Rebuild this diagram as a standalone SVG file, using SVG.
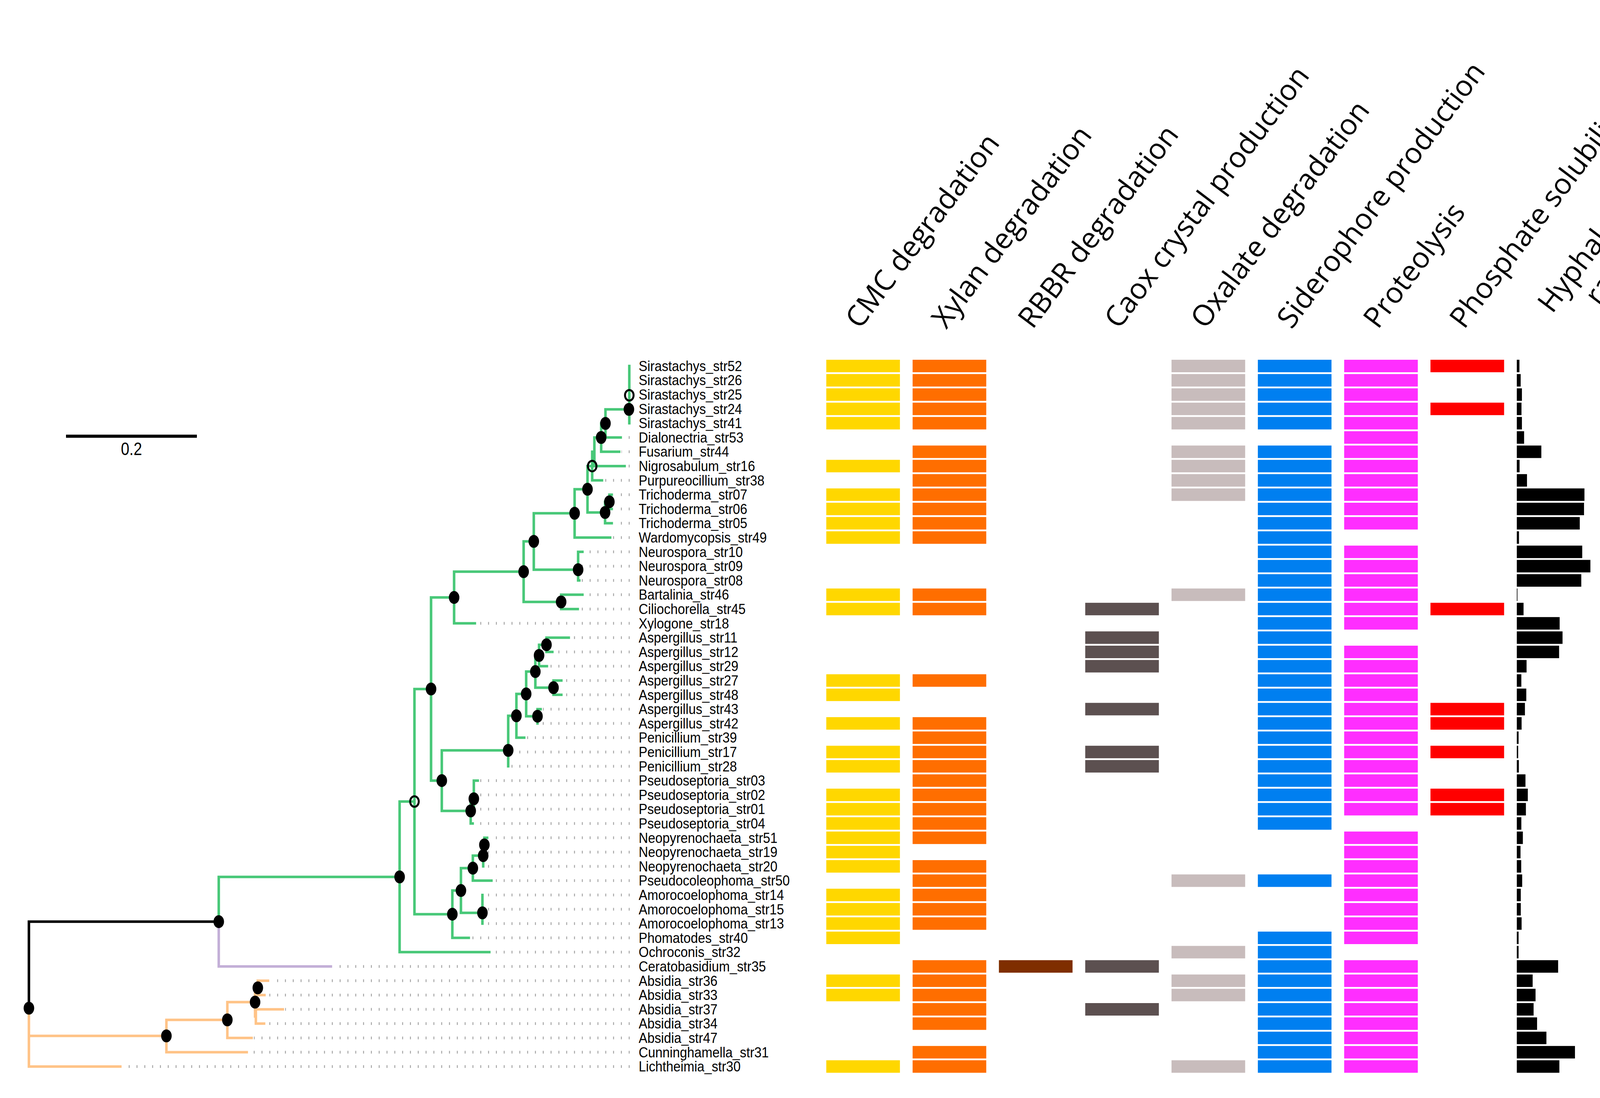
<svg xmlns="http://www.w3.org/2000/svg" width="4403" height="2811" viewBox="0 0 4403 2811">
<style>
.g{fill:none;stroke:#48C878;stroke-width:6.5;stroke-linecap:square}
.pu{fill:none;stroke:#C3AFD7;stroke-width:6.5;stroke-linecap:square}
.bk{fill:none;stroke:#000;stroke-width:6.5;stroke-linecap:square}
.or{fill:none;stroke:#FFC387;stroke-width:6.5;stroke-linecap:square}
.dt{fill:none;stroke:#A8A8A8;stroke-width:7;stroke-dasharray:2.5 17.5}
.dot{fill:#000}
.hol{fill:none;stroke:#000;stroke-width:5}
.lab{font-family:"Liberation Sans",Arial,sans-serif;font-size:37px;fill:#000}
.hdr{font-family:"Open Sans","Noto Sans",sans-serif;font-size:74px;fill:#000}
.c0{fill:#FFD700}.c1{fill:#FF6E00}.c2{fill:#7F2E00}.c3{fill:#5C5050}.c4{fill:#C8BCBC}.c5{fill:#007FF0}.c6{fill:#FF2EFF}.c7{fill:#FF0000}.c8{fill:#000}
</style>
<rect width="4403" height="2811" fill="#fff"/>

<g id="scalebar">
<path d="M169 1116.7 H504" stroke="#000" stroke-width="8"/>
<text transform="translate(336.5 1165) scale(0.845 1)" text-anchor="middle" style="font-family:'Liberation Sans',Arial,sans-serif;font-size:46px">0.2</text>
</g>

<g id="connectors">
<g id="tip-dots" class="dt">
<path d="M1612 1120 H1595"/><path d="M1612 1156.6 H1591"/><path d="M1612 1193.2 H1605"/><path d="M1612 1229.8 H1547"/>
<path d="M1612 1266.4 H1572"/><path d="M1612 1303 H1572"/><path d="M1612 1339.6 H1572"/><path d="M1612 1376.2 H1568"/>
<path d="M1612 1412.8 H1497"/><path d="M1612 1449.4 H1490"/><path d="M1612 1486 H1489"/><path d="M1612 1522.6 H1497"/>
<path d="M1612 1559.2 H1485"/><path d="M1612 1595.8 H1222"/><path d="M1612 1632.4 H1462"/><path d="M1612 1669 H1420"/>
<path d="M1612 1705.6 H1406"/><path d="M1612 1742.2 H1443"/><path d="M1612 1778.8 H1443"/><path d="M1612 1815.4 H1390"/>
<path d="M1612 1852 H1382"/><path d="M1612 1888.6 H1348"/><path d="M1612 1925.2 H1312"/><path d="M1612 1961.8 H1307"/>
<path d="M1612 1998.4 H1229"/><path d="M1612 2035 H1219"/><path d="M1612 2071.6 H1219"/><path d="M1612 2108.2 H1216"/>
<path d="M1612 2144.8 H1253"/><path d="M1612 2181.4 H1246"/><path d="M1612 2218 H1246"/><path d="M1612 2254.6 H1264"/>
<path d="M1612 2291.2 H1243"/><path d="M1612 2327.8 H1243"/><path d="M1612 2364.4 H1243"/><path d="M1612 2401 H1206"/>
<path d="M1612 2437.6 H1259"/><path d="M1612 2474.2 H853"/><path d="M1612 2510.8 H692"/><path d="M1612 2547.4 H683"/>
<path d="M1612 2584 H730"/><path d="M1612 2620.6 H682"/><path d="M1612 2657.2 H650"/><path d="M1612 2693.8 H638"/>
<path d="M1612 2730.4 H314"/>
</g>
<path class="g" d="M1611 937 V1083.4 M1550 1048 H1611 M1550 1048 V1120 M1550 1120 H1589 M1539 1084 H1550 M1539 1084 V1156.6 M1539 1156.6 H1585 M1521.6 1120 H1539 M1521.6 1120 V1193.2 M1521.6 1193.2 H1599 M1516 1156.6 H1521.6 M1516 1156.6 V1229.8 M1516 1229.8 H1541 M1504 1193.2 H1516 M1504 1193.2 V1312 M1504 1312 H1549 M1549 1284.7 V1339.6 M1549 1284.7 H1560 M1560 1266.4 V1303 M1560 1266.4 H1566 M1560 1303 H1566 M1549 1339.6 H1566 M1471 1252.5 H1504 M1471 1252.5 V1376.2 M1471 1376.2 H1562 M1366.5 1314 H1471 M1366.5 1314 V1458.5 M1366.5 1458.5 H1480 M1480 1412.8 V1486 M1480 1412.8 H1491 M1480 1449.4 H1484 M1480 1486 H1483 M1340.5 1386 H1366.5 M1340.5 1386 V1541 M1340.5 1541 H1436.5 M1436.5 1522.6 V1559.2 M1436.5 1522.6 H1491 M1436.5 1559.2 H1479 M1162.5 1463.5 H1340.5 M1162.5 1463.5 V1595.8 M1162.5 1595.8 H1215.6 M1103.5 1529.6 H1162.5 M1103.5 1529.6 V1998.4 M1103.5 1998.4 H1131 M1131 1921 V2076 M1131 1921 H1301 M1301 1832.5 V1961.8 M1301 1832.5 H1322 M1301 1925.2 H1306 M1322 1776.5 V1888.6 M1322 1888.6 H1342 M1322 1776.5 H1347 M1347 1719.3 V1833.7 M1347 1719.3 H1370.5 M1347 1833.7 H1376 M1376 1815.4 V1852 M1376 1815.4 H1384 M1370.5 1678 V1760.5 M1370.5 1678 H1380 M1370.5 1760.5 H1417 M1417 1742.2 V1778.8 M1417 1742.2 H1437 M1417 1778.8 H1437 M1380 1650.7 V1705.6 M1380 1650.7 H1399 M1380 1705.6 H1400 M1399 1632.4 V1669 M1399 1632.4 H1456 M1399 1669 H1414 M1131 2076 H1205 M1205 2045 V2108.2 M1205 2045 H1213 M1205 2108.2 H1210 M1213 1998.4 V2071.6 M1213 1998.4 H1223 M1061 1764 H1103.5 M1061 1764 V2340.4 M1061 2340.4 H1158 M1158 2279.8 V2401 M1158 2401 H1200 M1158 2279.8 H1180 M1180 2222.5 V2337 M1180 2222.5 H1210.5 M1180 2337 H1235 M1235 2291.2 V2364.4 M1210.5 2190.5 V2254.6 M1210.5 2190.5 H1237 M1210.5 2254.6 H1258 M1237 2163 V2218 M1237 2163 H1240 M1240 2144.8 V2181.4 M1240 2144.8 H1247 M1023 2052 H1061 M1023 2052 V2437.6 M1023 2437.6 H1252.6 M560 2245 H1023 M560 2245 V2359.6"/>
<path class="pu" d="M560 2359.6 V2474.2 H847"/>
<path class="bk" d="M74 2581 V2359.6 H560"/>
<path class="or" d="M74 2581 V2730.4 H308 M74 2652 H426 M426 2611 V2693.8 M426 2693.8 H631.6 M426 2611 H582 M582 2565.5 V2657.2 M582 2657.2 H644 M582 2565.5 H653 M653 2529 V2602.3 M653 2529 H660 M660 2510.8 V2547.4 M660 2510.8 H686 M660 2547.4 H677 M653 2602.3 H655 M655 2584 V2620.6 M655 2584 H724 M655 2620.6 H676"/>
</g>

<g id="nodes">
<g class="dot">
<ellipse cx="1610" cy="1048" rx="13.5" ry="16.5"/><ellipse cx="1550" cy="1084" rx="13.5" ry="16.5"/><ellipse cx="1539" cy="1120" rx="13.5" ry="16.5"/>
<ellipse cx="1560" cy="1284.7" rx="13.5" ry="16.5"/><ellipse cx="1549" cy="1312" rx="13.5" ry="16.5"/><ellipse cx="1504" cy="1252.5" rx="13.5" ry="16.5"/>
<ellipse cx="1471" cy="1314" rx="13.5" ry="16.5"/><ellipse cx="1480" cy="1458.5" rx="13.5" ry="16.5"/><ellipse cx="1366.5" cy="1386" rx="13.5" ry="16.5"/>
<ellipse cx="1436.5" cy="1541" rx="13.5" ry="16.5"/><ellipse cx="1340.5" cy="1463.5" rx="13.5" ry="16.5"/><ellipse cx="1162.5" cy="1529.6" rx="13.5" ry="16.5"/>
<ellipse cx="1399" cy="1650.7" rx="13.5" ry="16.5"/><ellipse cx="1380" cy="1678" rx="13.5" ry="16.5"/><ellipse cx="1370.5" cy="1719.3" rx="13.5" ry="16.5"/>
<ellipse cx="1417" cy="1760.5" rx="13.5" ry="16.5"/><ellipse cx="1376" cy="1833.7" rx="13.5" ry="16.5"/><ellipse cx="1347" cy="1776.5" rx="13.5" ry="16.5"/>
<ellipse cx="1322" cy="1832.5" rx="13.5" ry="16.5"/><ellipse cx="1301" cy="1921" rx="13.5" ry="16.5"/><ellipse cx="1213" cy="2045" rx="13.5" ry="16.5"/>
<ellipse cx="1205" cy="2076" rx="13.5" ry="16.5"/><ellipse cx="1131" cy="1998.4" rx="13.5" ry="16.5"/><ellipse cx="1103.5" cy="1764" rx="13.5" ry="16.5"/>
<ellipse cx="1240" cy="2163" rx="13.5" ry="16.5"/><ellipse cx="1237" cy="2190.5" rx="13.5" ry="16.5"/><ellipse cx="1210.5" cy="2222.5" rx="13.5" ry="16.5"/>
<ellipse cx="1235" cy="2337" rx="13.5" ry="16.5"/><ellipse cx="1180" cy="2279.8" rx="13.5" ry="16.5"/><ellipse cx="1158" cy="2340.4" rx="13.5" ry="16.5"/>
<ellipse cx="1023" cy="2245" rx="13.5" ry="16.5"/><ellipse cx="560" cy="2359.6" rx="13.5" ry="16.5"/><ellipse cx="74" cy="2581" rx="13.5" ry="16.5"/>
<ellipse cx="426" cy="2652" rx="13.5" ry="16.5"/><ellipse cx="582" cy="2611" rx="13.5" ry="16.5"/><ellipse cx="653" cy="2565.5" rx="13.5" ry="16.5"/>
<ellipse cx="660" cy="2529" rx="13.5" ry="16.5"/>
</g>
<g class="hol">
<ellipse cx="1611" cy="1012" rx="11" ry="13.5"/><ellipse cx="1516" cy="1193.2" rx="11" ry="13.5"/><ellipse cx="1061" cy="2052" rx="11" ry="13.5"/>
</g>
</g>

<g id="tip-labels" class="lab" transform="translate(1635 0) scale(0.9 1)">
<text y="949.8">Sirastachys_str52</text><text y="986.4">Sirastachys_str26</text><text y="1023">Sirastachys_str25</text>
<text y="1059.6">Sirastachys_str24</text><text y="1096.2">Sirastachys_str41</text><text y="1132.8">Dialonectria_str53</text>
<text y="1169.4">Fusarium_str44</text><text y="1206">Nigrosabulum_str16</text><text y="1242.6">Purpureocillium_str38</text>
<text y="1279.2">Trichoderma_str07</text><text y="1315.8">Trichoderma_str06</text><text y="1352.4">Trichoderma_str05</text>
<text y="1389">Wardomycopsis_str49</text><text y="1425.6">Neurospora_str10</text><text y="1462.2">Neurospora_str09</text>
<text y="1498.8">Neurospora_str08</text><text y="1535.4">Bartalinia_str46</text><text y="1572">Ciliochorella_str45</text>
<text y="1608.6">Xylogone_str18</text><text y="1645.2">Aspergillus_str11</text><text y="1681.8">Aspergillus_str12</text>
<text y="1718.4">Aspergillus_str29</text><text y="1755">Aspergillus_str27</text><text y="1791.6">Aspergillus_str48</text>
<text y="1828.2">Aspergillus_str43</text><text y="1864.8">Aspergillus_str42</text><text y="1901.4">Penicillium_str39</text>
<text y="1938">Penicillium_str17</text><text y="1974.6">Penicillium_str28</text><text y="2011.2">Pseudoseptoria_str03</text>
<text y="2047.8">Pseudoseptoria_str02</text><text y="2084.4">Pseudoseptoria_str01</text><text y="2121">Pseudoseptoria_str04</text>
<text y="2157.6">Neopyrenochaeta_str51</text><text y="2194.2">Neopyrenochaeta_str19</text><text y="2230.8">Neopyrenochaeta_str20</text>
<text y="2267.4">Pseudocoleophoma_str50</text><text y="2304">Amorocoelophoma_str14</text><text y="2340.6">Amorocoelophoma_str15</text>
<text y="2377.2">Amorocoelophoma_str13</text><text y="2413.8">Phomatodes_str40</text><text y="2450.4">Ochroconis_str32</text>
<text y="2487">Ceratobasidium_str35</text><text y="2523.6">Absidia_str36</text><text y="2560.2">Absidia_str33</text>
<text y="2596.8">Absidia_str37</text><text y="2633.4">Absidia_str34</text><text y="2670">Absidia_str47</text>
<text y="2706.6">Cunninghamella_str31</text><text y="2743.2">Lichtheimia_str30</text>
</g>

<g id="headers" class="hdr">
<text transform="translate(2201.6 845) rotate(-53)">CMC degradation</text>
<text transform="translate(2422.6 845) rotate(-53)">Xylan degradation</text>
<text transform="translate(2643.5 845) rotate(-53)">RBBR degradation</text>
<text transform="translate(2864.5 845) rotate(-53)">Caox crystal production</text>
<text transform="translate(3085.4 845) rotate(-53)">Oxalate degradation</text>
<text transform="translate(3306.4 845) rotate(-53)">Siderophore production</text>
<text transform="translate(3527.4 845) rotate(-53)">Proteolysis</text>
<text transform="translate(3748.3 845) rotate(-53)">Phosphate solubilization</text>
<text transform="translate(4154 566) rotate(-53)" text-anchor="middle"><tspan x="0" y="0">Hyphal extension</tspan><tspan x="0" y="84">rate (µm.h<tspan font-size="46" dy="-28">-1</tspan><tspan dy="28">)</tspan></tspan></text>
</g>

<g id="col-cmc" class="c0">
<rect x="2115.3" y="921" width="188.5" height="32"/><rect x="2115.3" y="957.6" width="188.5" height="32"/><rect x="2115.3" y="994.2" width="188.5" height="32"/><rect x="2115.3" y="1030.8" width="188.5" height="32"/><rect x="2115.3" y="1067.4" width="188.5" height="32"/>
<rect x="2115.3" y="1177.2" width="188.5" height="32"/><rect x="2115.3" y="1250.4" width="188.5" height="32"/><rect x="2115.3" y="1287" width="188.5" height="32"/><rect x="2115.3" y="1323.6" width="188.5" height="32"/><rect x="2115.3" y="1360.2" width="188.5" height="32"/>
<rect x="2115.3" y="1506.6" width="188.5" height="32"/><rect x="2115.3" y="1543.2" width="188.5" height="32"/><rect x="2115.3" y="1726.2" width="188.5" height="32"/><rect x="2115.3" y="1762.8" width="188.5" height="32"/><rect x="2115.3" y="1836" width="188.5" height="32"/>
<rect x="2115.3" y="1909.2" width="188.5" height="32"/><rect x="2115.3" y="1945.8" width="188.5" height="32"/><rect x="2115.3" y="2019" width="188.5" height="32"/><rect x="2115.3" y="2055.6" width="188.5" height="32"/><rect x="2115.3" y="2092.2" width="188.5" height="32"/>
<rect x="2115.3" y="2128.8" width="188.5" height="32"/><rect x="2115.3" y="2165.4" width="188.5" height="32"/><rect x="2115.3" y="2202" width="188.5" height="32"/><rect x="2115.3" y="2275.2" width="188.5" height="32"/><rect x="2115.3" y="2311.8" width="188.5" height="32"/>
<rect x="2115.3" y="2348.4" width="188.5" height="32"/><rect x="2115.3" y="2385" width="188.5" height="32"/><rect x="2115.3" y="2494.8" width="188.5" height="32"/><rect x="2115.3" y="2531.4" width="188.5" height="32"/><rect x="2115.3" y="2714.4" width="188.5" height="32"/>
</g>
<g id="col-xylan" class="c1">
<rect x="2336.3" y="921" width="188.5" height="32"/><rect x="2336.3" y="957.6" width="188.5" height="32"/><rect x="2336.3" y="994.2" width="188.5" height="32"/><rect x="2336.3" y="1030.8" width="188.5" height="32"/><rect x="2336.3" y="1067.4" width="188.5" height="32"/>
<rect x="2336.3" y="1140.6" width="188.5" height="32"/><rect x="2336.3" y="1177.2" width="188.5" height="32"/><rect x="2336.3" y="1213.8" width="188.5" height="32"/><rect x="2336.3" y="1250.4" width="188.5" height="32"/><rect x="2336.3" y="1287" width="188.5" height="32"/>
<rect x="2336.3" y="1323.6" width="188.5" height="32"/><rect x="2336.3" y="1360.2" width="188.5" height="32"/><rect x="2336.3" y="1506.6" width="188.5" height="32"/><rect x="2336.3" y="1543.2" width="188.5" height="32"/><rect x="2336.3" y="1726.2" width="188.5" height="32"/>
<rect x="2336.3" y="1836" width="188.5" height="32"/><rect x="2336.3" y="1872.6" width="188.5" height="32"/><rect x="2336.3" y="1909.2" width="188.5" height="32"/><rect x="2336.3" y="1945.8" width="188.5" height="32"/><rect x="2336.3" y="1982.4" width="188.5" height="32"/>
<rect x="2336.3" y="2019" width="188.5" height="32"/><rect x="2336.3" y="2055.6" width="188.5" height="32"/><rect x="2336.3" y="2092.2" width="188.5" height="32"/><rect x="2336.3" y="2128.8" width="188.5" height="32"/><rect x="2336.3" y="2202" width="188.5" height="32"/>
<rect x="2336.3" y="2238.6" width="188.5" height="32"/><rect x="2336.3" y="2275.2" width="188.5" height="32"/><rect x="2336.3" y="2311.8" width="188.5" height="32"/><rect x="2336.3" y="2348.4" width="188.5" height="32"/><rect x="2336.3" y="2458.2" width="188.5" height="32"/>
<rect x="2336.3" y="2494.8" width="188.5" height="32"/><rect x="2336.3" y="2531.4" width="188.5" height="32"/><rect x="2336.3" y="2568" width="188.5" height="32"/><rect x="2336.3" y="2604.6" width="188.5" height="32"/><rect x="2336.3" y="2677.8" width="188.5" height="32"/>
<rect x="2336.3" y="2714.4" width="188.5" height="32"/>
</g>
<g id="col-rbbr" class="c2">
<rect x="2557.2" y="2458.2" width="188.5" height="32"/>
</g>
<g id="col-caox" class="c3">
<rect x="2778.2" y="1543.2" width="188.5" height="32"/><rect x="2778.2" y="1616.4" width="188.5" height="32"/><rect x="2778.2" y="1653" width="188.5" height="32"/><rect x="2778.2" y="1689.6" width="188.5" height="32"/><rect x="2778.2" y="1799.4" width="188.5" height="32"/>
<rect x="2778.2" y="1909.2" width="188.5" height="32"/><rect x="2778.2" y="1945.8" width="188.5" height="32"/><rect x="2778.2" y="2458.2" width="188.5" height="32"/><rect x="2778.2" y="2568" width="188.5" height="32"/>
</g>
<g id="col-oxalate" class="c4">
<rect x="2999.1" y="921" width="188.5" height="32"/><rect x="2999.1" y="957.6" width="188.5" height="32"/><rect x="2999.1" y="994.2" width="188.5" height="32"/><rect x="2999.1" y="1030.8" width="188.5" height="32"/><rect x="2999.1" y="1067.4" width="188.5" height="32"/>
<rect x="2999.1" y="1140.6" width="188.5" height="32"/><rect x="2999.1" y="1177.2" width="188.5" height="32"/><rect x="2999.1" y="1213.8" width="188.5" height="32"/><rect x="2999.1" y="1250.4" width="188.5" height="32"/><rect x="2999.1" y="1506.6" width="188.5" height="32"/>
<rect x="2999.1" y="2238.6" width="188.5" height="32"/><rect x="2999.1" y="2421.6" width="188.5" height="32"/><rect x="2999.1" y="2494.8" width="188.5" height="32"/><rect x="2999.1" y="2531.4" width="188.5" height="32"/><rect x="2999.1" y="2714.4" width="188.5" height="32"/>
</g>
<g id="col-siderophore" class="c5">
<rect x="3220.1" y="921" width="188.5" height="32"/><rect x="3220.1" y="957.6" width="188.5" height="32"/><rect x="3220.1" y="994.2" width="188.5" height="32"/><rect x="3220.1" y="1030.8" width="188.5" height="32"/><rect x="3220.1" y="1067.4" width="188.5" height="32"/>
<rect x="3220.1" y="1140.6" width="188.5" height="32"/><rect x="3220.1" y="1177.2" width="188.5" height="32"/><rect x="3220.1" y="1213.8" width="188.5" height="32"/><rect x="3220.1" y="1250.4" width="188.5" height="32"/><rect x="3220.1" y="1287" width="188.5" height="32"/>
<rect x="3220.1" y="1323.6" width="188.5" height="32"/><rect x="3220.1" y="1360.2" width="188.5" height="32"/><rect x="3220.1" y="1396.8" width="188.5" height="32"/><rect x="3220.1" y="1433.4" width="188.5" height="32"/><rect x="3220.1" y="1470" width="188.5" height="32"/>
<rect x="3220.1" y="1506.6" width="188.5" height="32"/><rect x="3220.1" y="1543.2" width="188.5" height="32"/><rect x="3220.1" y="1579.8" width="188.5" height="32"/><rect x="3220.1" y="1616.4" width="188.5" height="32"/><rect x="3220.1" y="1653" width="188.5" height="32"/>
<rect x="3220.1" y="1689.6" width="188.5" height="32"/><rect x="3220.1" y="1726.2" width="188.5" height="32"/><rect x="3220.1" y="1762.8" width="188.5" height="32"/><rect x="3220.1" y="1799.4" width="188.5" height="32"/><rect x="3220.1" y="1836" width="188.5" height="32"/>
<rect x="3220.1" y="1872.6" width="188.5" height="32"/><rect x="3220.1" y="1909.2" width="188.5" height="32"/><rect x="3220.1" y="1945.8" width="188.5" height="32"/><rect x="3220.1" y="1982.4" width="188.5" height="32"/><rect x="3220.1" y="2019" width="188.5" height="32"/>
<rect x="3220.1" y="2055.6" width="188.5" height="32"/><rect x="3220.1" y="2092.2" width="188.5" height="32"/><rect x="3220.1" y="2238.6" width="188.5" height="32"/><rect x="3220.1" y="2385" width="188.5" height="32"/><rect x="3220.1" y="2421.6" width="188.5" height="32"/>
<rect x="3220.1" y="2458.2" width="188.5" height="32"/><rect x="3220.1" y="2494.8" width="188.5" height="32"/><rect x="3220.1" y="2531.4" width="188.5" height="32"/><rect x="3220.1" y="2568" width="188.5" height="32"/><rect x="3220.1" y="2604.6" width="188.5" height="32"/>
<rect x="3220.1" y="2641.2" width="188.5" height="32"/><rect x="3220.1" y="2677.8" width="188.5" height="32"/><rect x="3220.1" y="2714.4" width="188.5" height="32"/>
</g>
<g id="col-proteolysis" class="c6">
<rect x="3441.1" y="921" width="188.5" height="32"/><rect x="3441.1" y="957.6" width="188.5" height="32"/><rect x="3441.1" y="994.2" width="188.5" height="32"/><rect x="3441.1" y="1030.8" width="188.5" height="32"/><rect x="3441.1" y="1067.4" width="188.5" height="32"/>
<rect x="3441.1" y="1104" width="188.5" height="32"/><rect x="3441.1" y="1140.6" width="188.5" height="32"/><rect x="3441.1" y="1177.2" width="188.5" height="32"/><rect x="3441.1" y="1213.8" width="188.5" height="32"/><rect x="3441.1" y="1250.4" width="188.5" height="32"/>
<rect x="3441.1" y="1287" width="188.5" height="32"/><rect x="3441.1" y="1323.6" width="188.5" height="32"/><rect x="3441.1" y="1396.8" width="188.5" height="32"/><rect x="3441.1" y="1433.4" width="188.5" height="32"/><rect x="3441.1" y="1470" width="188.5" height="32"/>
<rect x="3441.1" y="1506.6" width="188.5" height="32"/><rect x="3441.1" y="1543.2" width="188.5" height="32"/><rect x="3441.1" y="1579.8" width="188.5" height="32"/><rect x="3441.1" y="1653" width="188.5" height="32"/><rect x="3441.1" y="1689.6" width="188.5" height="32"/>
<rect x="3441.1" y="1726.2" width="188.5" height="32"/><rect x="3441.1" y="1762.8" width="188.5" height="32"/><rect x="3441.1" y="1799.4" width="188.5" height="32"/><rect x="3441.1" y="1836" width="188.5" height="32"/><rect x="3441.1" y="1872.6" width="188.5" height="32"/>
<rect x="3441.1" y="1909.2" width="188.5" height="32"/><rect x="3441.1" y="1945.8" width="188.5" height="32"/><rect x="3441.1" y="1982.4" width="188.5" height="32"/><rect x="3441.1" y="2019" width="188.5" height="32"/><rect x="3441.1" y="2055.6" width="188.5" height="32"/>
<rect x="3441.1" y="2128.8" width="188.5" height="32"/><rect x="3441.1" y="2165.4" width="188.5" height="32"/><rect x="3441.1" y="2202" width="188.5" height="32"/><rect x="3441.1" y="2238.6" width="188.5" height="32"/><rect x="3441.1" y="2275.2" width="188.5" height="32"/>
<rect x="3441.1" y="2311.8" width="188.5" height="32"/><rect x="3441.1" y="2348.4" width="188.5" height="32"/><rect x="3441.1" y="2385" width="188.5" height="32"/><rect x="3441.1" y="2458.2" width="188.5" height="32"/><rect x="3441.1" y="2494.8" width="188.5" height="32"/>
<rect x="3441.1" y="2531.4" width="188.5" height="32"/><rect x="3441.1" y="2568" width="188.5" height="32"/><rect x="3441.1" y="2604.6" width="188.5" height="32"/><rect x="3441.1" y="2641.2" width="188.5" height="32"/><rect x="3441.1" y="2677.8" width="188.5" height="32"/>
<rect x="3441.1" y="2714.4" width="188.5" height="32"/>
</g>
<g id="col-phosphate" class="c7">
<rect x="3662" y="921" width="188.5" height="32"/><rect x="3662" y="1030.8" width="188.5" height="32"/><rect x="3662" y="1543.2" width="188.5" height="32"/><rect x="3662" y="1799.4" width="188.5" height="32"/>
<rect x="3662" y="1836" width="188.5" height="32"/><rect x="3662" y="1909.2" width="188.5" height="32"/><rect x="3662" y="2019" width="188.5" height="32"/><rect x="3662" y="2055.6" width="188.5" height="32"/>
</g>
<g id="col-hyphal" class="c8">
<rect x="3883" y="921" width="6.7" height="32"/><rect x="3883" y="957.6" width="9.9" height="32"/><rect x="3883" y="994.2" width="13.1" height="32"/><rect x="3883" y="1030.8" width="12" height="32"/><rect x="3883" y="1067.4" width="13.1" height="32"/>
<rect x="3883" y="1104" width="18.7" height="32"/><rect x="3883" y="1140.6" width="62.8" height="32"/><rect x="3883" y="1177.2" width="7.1" height="32"/><rect x="3883" y="1213.8" width="26.1" height="32"/><rect x="3883" y="1250.4" width="173.2" height="32"/>
<rect x="3883" y="1287" width="172.1" height="32"/><rect x="3883" y="1323.6" width="161.2" height="32"/><rect x="3883" y="1360.2" width="5.6" height="32"/><rect x="3883" y="1396.8" width="167.5" height="32"/><rect x="3883" y="1433.4" width="188.4" height="32"/>
<rect x="3883" y="1470" width="165.1" height="32"/><rect x="3883" y="1506.6" width="1.6" height="32"/><rect x="3883" y="1543.2" width="17.3" height="32"/><rect x="3883" y="1579.8" width="109.7" height="32"/><rect x="3883" y="1616.4" width="117.1" height="32"/>
<rect x="3883" y="1653" width="108.3" height="32"/><rect x="3883" y="1689.6" width="25" height="32"/><rect x="3883" y="1726.2" width="11.6" height="32"/><rect x="3883" y="1762.8" width="24.3" height="32"/><rect x="3883" y="1799.4" width="20.8" height="32"/>
<rect x="3883" y="1836" width="12.3" height="32"/><rect x="3883" y="1872.6" width="4.6" height="32"/><rect x="3883" y="1909.2" width="3.5" height="32"/><rect x="3883" y="1945.8" width="5.3" height="32"/><rect x="3883" y="1982.4" width="22.2" height="32"/>
<rect x="3883" y="2019" width="28.2" height="32"/><rect x="3883" y="2055.6" width="23.3" height="32"/><rect x="3883" y="2092.2" width="11.6" height="32"/><rect x="3883" y="2128.8" width="15.5" height="32"/><rect x="3883" y="2165.4" width="9.5" height="32"/>
<rect x="3883" y="2202" width="11.3" height="32"/><rect x="3883" y="2238.6" width="13.8" height="32"/><rect x="3883" y="2275.2" width="10.2" height="32"/><rect x="3883" y="2311.8" width="10.2" height="32"/><rect x="3883" y="2348.4" width="12.3" height="32"/>
<rect x="3883" y="2385" width="4.6" height="32"/><rect x="3883" y="2421.6" width="4.6" height="32"/><rect x="3883" y="2458.2" width="105.8" height="32"/><rect x="3883" y="2494.8" width="40.6" height="32"/><rect x="3883" y="2531.4" width="48" height="32"/>
<rect x="3883" y="2568" width="43" height="32"/><rect x="3883" y="2604.6" width="51.9" height="32"/><rect x="3883" y="2641.2" width="75.8" height="32"/><rect x="3883" y="2677.8" width="148.9" height="32"/><rect x="3883" y="2714.4" width="109" height="32"/>
</g>
</svg>
